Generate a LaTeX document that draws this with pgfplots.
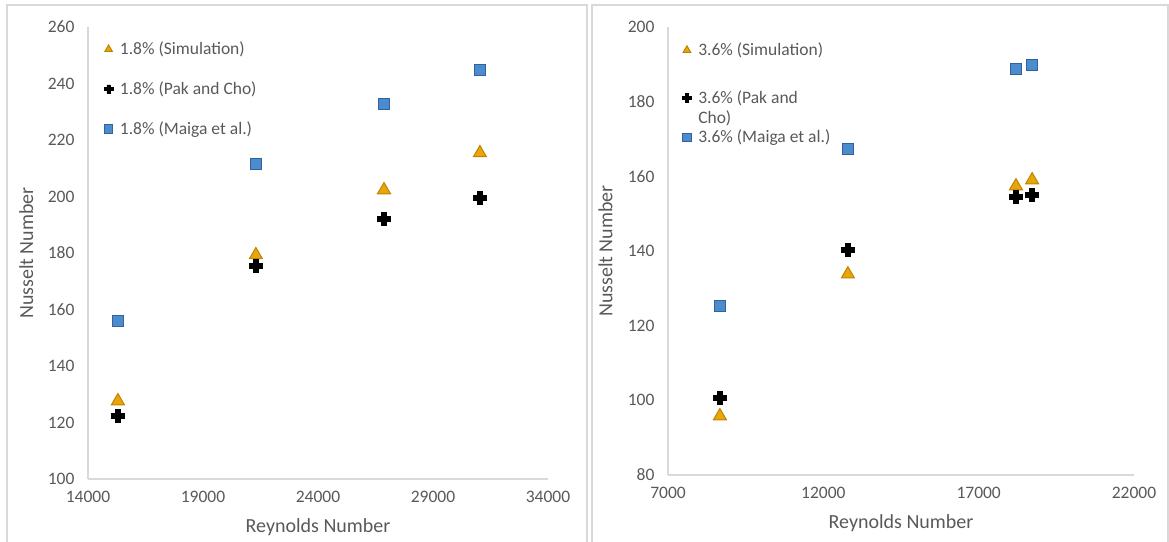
\documentclass[border=0pt]{standalone}
\usepackage{pgfplots}
\pgfplotsset{compat=1.18}
\usepackage{fontspec}
\setmainfont{Carlito}
\definecolor{tickgray}{RGB}{89,89,89}
\definecolor{axgray}{RGB}{217,217,217}
\definecolor{goldfill}{RGB}{232,166,10}
\definecolor{golddraw}{RGB}{190,132,0}
\definecolor{bluefill}{RGB}{76,140,204}
\definecolor{bluedraw}{RGB}{48,98,156}
\pgfdeclareplotmark{fatplus}{%
  \pgfpathmoveto{\pgfqpoint{0.38\pgfplotmarksize}{\pgfplotmarksize}}%
  \pgfpathlineto{\pgfqpoint{0.38\pgfplotmarksize}{0.38\pgfplotmarksize}}%
  \pgfpathlineto{\pgfqpoint{\pgfplotmarksize}{0.38\pgfplotmarksize}}%
  \pgfpathlineto{\pgfqpoint{\pgfplotmarksize}{-0.38\pgfplotmarksize}}%
  \pgfpathlineto{\pgfqpoint{0.38\pgfplotmarksize}{-0.38\pgfplotmarksize}}%
  \pgfpathlineto{\pgfqpoint{0.38\pgfplotmarksize}{-\pgfplotmarksize}}%
  \pgfpathlineto{\pgfqpoint{-0.38\pgfplotmarksize}{-\pgfplotmarksize}}%
  \pgfpathlineto{\pgfqpoint{-0.38\pgfplotmarksize}{-0.38\pgfplotmarksize}}%
  \pgfpathlineto{\pgfqpoint{-\pgfplotmarksize}{-0.38\pgfplotmarksize}}%
  \pgfpathlineto{\pgfqpoint{-\pgfplotmarksize}{0.38\pgfplotmarksize}}%
  \pgfpathlineto{\pgfqpoint{-0.38\pgfplotmarksize}{0.38\pgfplotmarksize}}%
  \pgfpathlineto{\pgfqpoint{-0.38\pgfplotmarksize}{\pgfplotmarksize}}%
  \pgfpathclose\pgfusepathqfillstroke}
\pgfplotsset{
  panel/.style={
    scale only axis,
    axis x line*=bottom, axis y line*=left,
    axis line style={axgray, line width=1.5pt},
    major tick length=0pt,
    tick style={draw=none},
    ticklabel style={font=\fontsize{17.5}{20}\selectfont, text=tickgray},
    xticklabel style={yshift=-9pt},
    yticklabel style={xshift=-10pt},
    scaled x ticks=false, scaled y ticks=false,
    /pgf/number format/assume math mode=true,
    /pgf/number format/1000 sep={},
    every axis x label/.style={at={(axis description cs:0.5,0)}, anchor=center, yshift=-48pt,
      font=\fontsize{20}{24}\selectfont, text=tickgray},
    every axis y label/.style={at={(axis description cs:-0.134,0.5)}, rotate=90, anchor=center,
      font=\fontsize{20}{24}\selectfont, text=tickgray},
    legend cell align=left,
    legend style={draw=none, fill=none, inner sep=0pt, anchor=north west,
      font=\fontsize{17.5}{20}\selectfont, text=tickgray, column sep=7pt,
      nodes={inner sep=0pt}},
    legend image code/.code={\draw[##1, mark size=4.3pt] plot coordinates {(0pt,0pt)};},
    clip=false,
  },
  tri/.style={only marks, mark=triangle*, mark size=7.5pt, mark options={fill=goldfill, draw=golddraw, line width=1pt}},
  crs/.style={only marks, mark=fatplus, mark size=6.5pt, mark options={fill=black, draw=black, line width=0.4pt}},
  sqr/.style={only marks, mark=square*, mark size=5.5pt, mark options={fill=bluefill, draw=bluedraw, line width=1pt}},
}
\begin{document}
\begin{tikzpicture}[x=1pt,y=1pt]
\draw[axgray, line width=1.5pt] (7,-10) -- (7,536) -- (587,536) -- (587,-10);
\draw[axgray, line width=1.5pt] (592,-10) -- (592,536) -- (1168,536) -- (1168,-10);
\begin{axis}[panel, at={(88pt,62pt)}, anchor=south west, width=460pt, height=452pt,
  xmin=14000, xmax=34000, ymin=100, ymax=260,
  xtick={14000,19000,24000,29000,34000}, ytick={100,120,...,260},
  xlabel={Reynolds Number}, ylabel={Nusselt Number},
  legend style={at={(axis description cs:0.035,0.967)}, row sep=25.5pt}]
\addplot[tri] coordinates {(15300,127.6) (21300,179.3) (26870,202.3) (31040,215.4)};
\addlegendentry{1.8\% (Simulation)}
\addplot[crs] coordinates {(15300,122.3) (21300,175.4) (26870,192.0) (31040,199.5)};
\addlegendentry{1.8\% (Pak and Cho)}
\addplot[sqr] coordinates {(15300,155.9) (21300,211.5) (26870,232.7) (31040,244.8)};
\addlegendentry{1.8\% (Maiga et al.)}
\end{axis}
\begin{axis}[panel, at={(668pt,66pt)}, anchor=south west, width=466pt, height=448pt,
  xmin=7000, xmax=22000, ymin=80, ymax=200,
  xtick={7000,12000,17000,22000}, ytick={80,100,...,200},
  xlabel={Reynolds Number}, ylabel={Nusselt Number},
  legend style={at={(axis description cs:0.031,1.027)}, row sep=5.5pt}]
\addplot[tri] coordinates {(8670,95.8) (12790,133.8) (18200,157.4) (18720,159.0)};
\addlegendentry{\raisebox{28.6pt}{3.6\% (Simulation)}\rule{0pt}{68.5pt}}
\addplot[crs] coordinates {(8670,100.6) (12790,140.3) (18200,154.5) (18720,155.0)};
\addlegendentry{3.6\% (Pak and}
\addlegendimage{empty legend}
\addlegendentry{Cho)}
\addplot[sqr] coordinates {(8670,125.3) (12790,167.3) (18200,188.8) (18720,189.8)};
\addlegendentry{3.6\% (Maiga et al.)}
\end{axis}
\pgfresetboundingbox
\useasboundingbox (0,0) rectangle (1169,541);
\end{tikzpicture}
\end{document}
